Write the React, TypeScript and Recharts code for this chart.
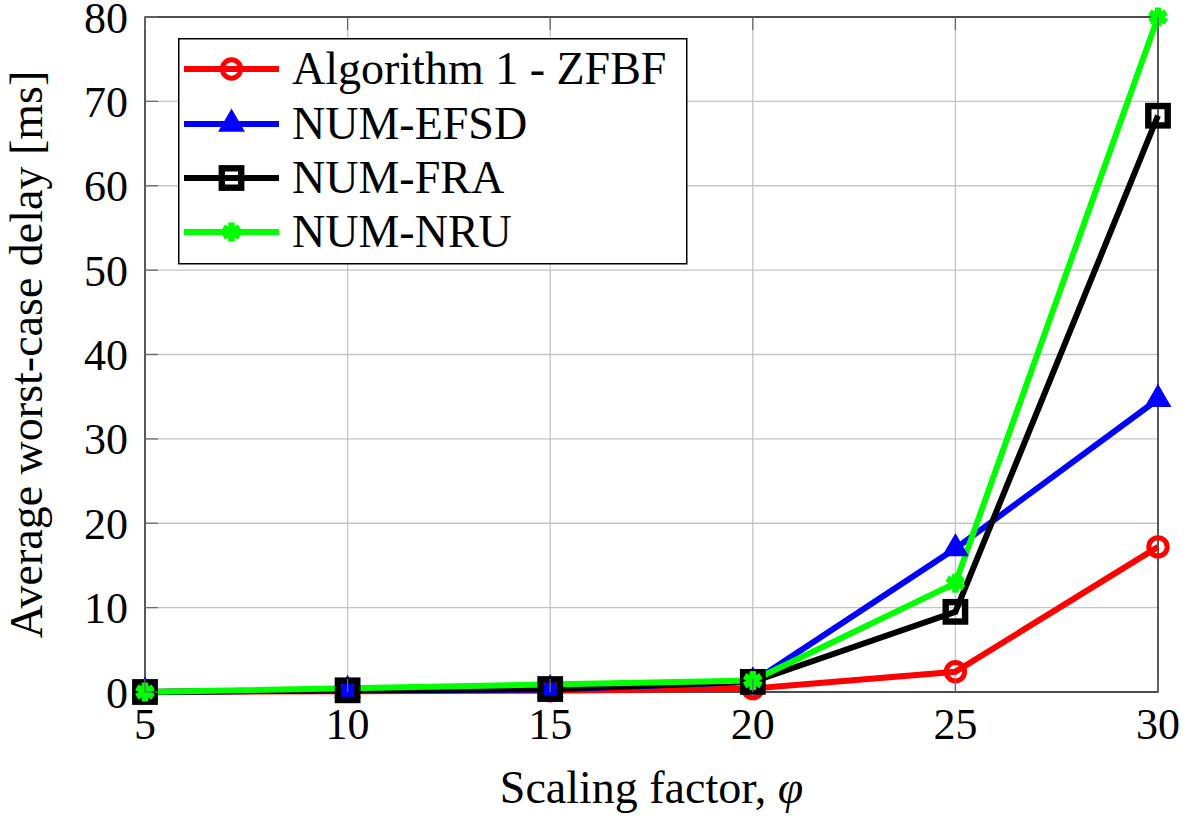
import React from 'react';
import { LineChart, Line, XAxis, YAxis, CartesianGrid, Legend, ReferenceArea } from 'recharts';

const scalingFactors = [5, 10, 15, 20, 25, 30];
const zfbfDelay = [0, 0.1, 0.15, 0.4, 2.4, 17.2];
const efsdDelay = [0, 0.2, 0.3, 1.2, 17.0, 34.7];
const fraDelay = [0, 0.2, 0.35, 1.2, 9.5, 68.3];
const nruDelay = [0, null, null, 1.35, 12.9, 80];

const xTicks = [5, 10, 15, 20, 25, 30];
const yTicks = [0, 10, 20, 30, 40, 50, 60, 70, 80];

const seriesNames = ['Algorithm 1 - ZFBF', 'NUM-EFSD', 'NUM-FRA', 'NUM-NRU'];
const seriesKeys = ['zfbf', 'efsd', 'fra', 'nru'];
const seriesColors = ['#ff0000', '#0000ff', '#000000', '#00ff00'];
const seriesShapes = ['circle', 'triangle', 'square', 'asterisk'];

const xLabel = 'Scaling factor, ';
const xLabelSymbol = 'φ';
const yLabel = 'Average worst-case delay [ms]';

const FONT = "'Liberation Serif', 'Times New Roman', Tinos, 'DejaVu Serif', serif";
const fontStyle = { fontFamily: FONT };

const TICK_SIZE = 6;
const X_TICK_MARGIN = 10;
const Y_TICK_MARGIN = 11;
const INNER_TICK = 13;
const TICK_COLOR = '#6a6a6a';

const data = scalingFactors.map((x, i) => ({
  x,
  zfbf: zfbfDelay[i],
  efsd: efsdDelay[i],
  fra: fraDelay[i],
  nru: nruDelay[i],
}));

function Marker({ shape, cx, cy, color }: { shape: string; cx: number; cy: number; color: string }) {
  if (shape === 'circle') {
    return <circle cx={cx} cy={cy} r={9.2} fill="none" stroke={color} strokeWidth={5} />;
  }
  if (shape === 'triangle') {
    const r = 14;
    const pts = [
      [cx, cy - r],
      [cx - r * 0.866, cy + r * 0.5],
      [cx + r * 0.866, cy + r * 0.5],
    ]
      .map((p) => p.join(','))
      .join(' ');
    return <polygon points={pts} fill={color} stroke={color} strokeWidth={1.5} />;
  }
  if (shape === 'square') {
    return <rect x={cx - 9.7} y={cy - 9.7} width={19.4} height={19.4} fill="none" stroke={color} strokeWidth={6.4} />;
  }
  const r = 9.5;
  const angles = [90, 30, -30];
  return (
    <g>
      {angles.map((a) => {
        const rad = (a * Math.PI) / 180;
        const dx = r * Math.cos(rad);
        const dy = r * Math.sin(rad);
        return (
          <line key={a} x1={cx - dx} y1={cy - dy} x2={cx + dx} y2={cy + dy} stroke={color} strokeWidth={6.5} />
        );
      })}
    </g>
  );
}

function makeDot(shape: string, color: string) {
  return (props: any) => {
    const { cx, cy, index, value } = props;
    if (cx == null || cy == null || value == null) return <g key={`d-${shape}-${index}`} />;
    return (
      <g key={`d-${shape}-${index}`}>
        <Marker shape={shape} cx={cx} cy={cy} color={color} />
      </g>
    );
  };
}

function LegendBox() {
  const rowY = [31, 86, 140, 194];
  return (
    <svg width={511} height={228} style={{ display: 'block' }}>
      <rect x={0.75} y={0.75} width={508} height={225} fill="#ffffff" stroke="#000000" strokeWidth={1.5} />
      {seriesNames.map((name, i) => (
        <g key={name}>
          <line x1={6} y1={rowY[i]} x2={101} y2={rowY[i]} stroke={seriesColors[i]} strokeWidth={6} />
          <Marker shape={seriesShapes[i]} cx={53.5} cy={rowY[i]} color={seriesColors[i]} />
          <text x={114} y={rowY[i] + 15} fontSize={46} style={fontStyle} fill="#000">
            {name}
          </text>
        </g>
      ))}
    </svg>
  );
}

const XLabelContent = (props: any) => {
  const vb = props.viewBox || {};
  const cx = vb.x + vb.width / 2;
  return (
    <text x={cx} y={vb.y + 111} textAnchor="middle" fontSize={46} style={fontStyle} fill="#000">
      {xLabel}
      <tspan fontStyle="italic">{xLabelSymbol}</tspan>
    </text>
  );
};

const YLabelContent = (props: any) => {
  const vb = props.viewBox || {};
  const x = vb.x + 42;
  const y = vb.y + vb.height / 2;
  return (
    <text
      x={x}
      y={y}
      transform={`rotate(-90, ${x}, ${y})`}
      textAnchor="middle"
      fontSize={46}
      style={fontStyle}
      fill="#000"
    >
      {yLabel}
    </text>
  );
};

const BottomTick = (props: any) => {
  const { x, y, payload } = props;
  const axisY = y - TICK_SIZE - X_TICK_MARGIN;
  return (
    <g>
      <line x1={x} y1={axisY} x2={x} y2={axisY - INNER_TICK} stroke={TICK_COLOR} strokeWidth={1.3} />
      <text x={x} y={y} dy="0.71em" textAnchor="middle" fontSize={44} fill="#000" style={fontStyle}>
        {payload.value}
      </text>
    </g>
  );
};

const LeftTick = (props: any) => {
  const { x, y, payload } = props;
  const axisX = x + TICK_SIZE + Y_TICK_MARGIN;
  return (
    <g>
      <line x1={axisX} y1={y} x2={axisX + INNER_TICK} y2={y} stroke={TICK_COLOR} strokeWidth={1.3} />
      <text x={x} y={y} dy="0.355em" textAnchor="end" fontSize={44} fill="#000" style={fontStyle}>
        {payload.value}
      </text>
    </g>
  );
};

const TopTick = (props: any) => {
  const { x, y } = props;
  return <line x1={x} y1={y} x2={x} y2={y + INNER_TICK} stroke={TICK_COLOR} strokeWidth={1.3} />;
};

const RightTick = (props: any) => {
  const { x, y } = props;
  return <line x1={x} y1={y} x2={x - INNER_TICK} y2={y} stroke={TICK_COLOR} strokeWidth={1.3} />;
};

export default function App() {
  return (
    <div
      style={{ position: 'absolute', left: 0, top: 0, width: 1201, height: 819, background: '#fff', fontFamily: FONT }}
    >
      <LineChart
        width={1201}
        height={819}
        data={data}
        margin={{ top: 0, right: 0, left: 0, bottom: 67 }}
        style={fontStyle}
      >
        <CartesianGrid stroke="#c4c4c4" strokeWidth={1.3} />
        <XAxis
          dataKey="x"
          type="number"
          domain={[5, 30]}
          ticks={xTicks}
          height={60}
          axisLine={false}
          tickLine={false}
          tickSize={TICK_SIZE}
          tickMargin={X_TICK_MARGIN}
          tick={BottomTick}
          label={{ content: XLabelContent }}
        />
        <XAxis
          xAxisId="top"
          orientation="top"
          dataKey="x"
          type="number"
          domain={[5, 30]}
          ticks={xTicks}
          height={17}
          axisLine={false}
          tickLine={false}
          tickSize={0}
          tickMargin={0}
          tick={TopTick}
        />
        <YAxis
          type="number"
          domain={[0, 80]}
          ticks={yTicks}
          width={145}
          axisLine={false}
          tickLine={false}
          tickSize={TICK_SIZE}
          tickMargin={Y_TICK_MARGIN}
          tick={LeftTick}
          label={{ content: YLabelContent }}
        />
        <YAxis
          yAxisId="right"
          orientation="right"
          type="number"
          domain={[0, 80]}
          ticks={yTicks}
          width={43}
          axisLine={false}
          tickLine={false}
          tickSize={0}
          tickMargin={0}
          tick={RightTick}
        />
        <ReferenceArea x1={5} x2={30} y1={0} y2={80} fill="none" stroke="#222" strokeWidth={1.4} />
        {seriesKeys.map((k, i) => (
          <Line
            key={k}
            dataKey={k}
            name={seriesNames[i]}
            stroke={seriesColors[i]}
            strokeWidth={6}
            connectNulls
            isAnimationActive={false}
            dot={makeDot(seriesShapes[i], seriesColors[i])}
            activeDot={false}
          />
        ))}
        <Legend
          layout="vertical"
          align="center"
          verticalAlign="middle"
          wrapperStyle={{ left: 178, top: 38, width: 511, height: 228 }}
          content={() => <LegendBox />}
        />
      </LineChart>
    </div>
  );
}
